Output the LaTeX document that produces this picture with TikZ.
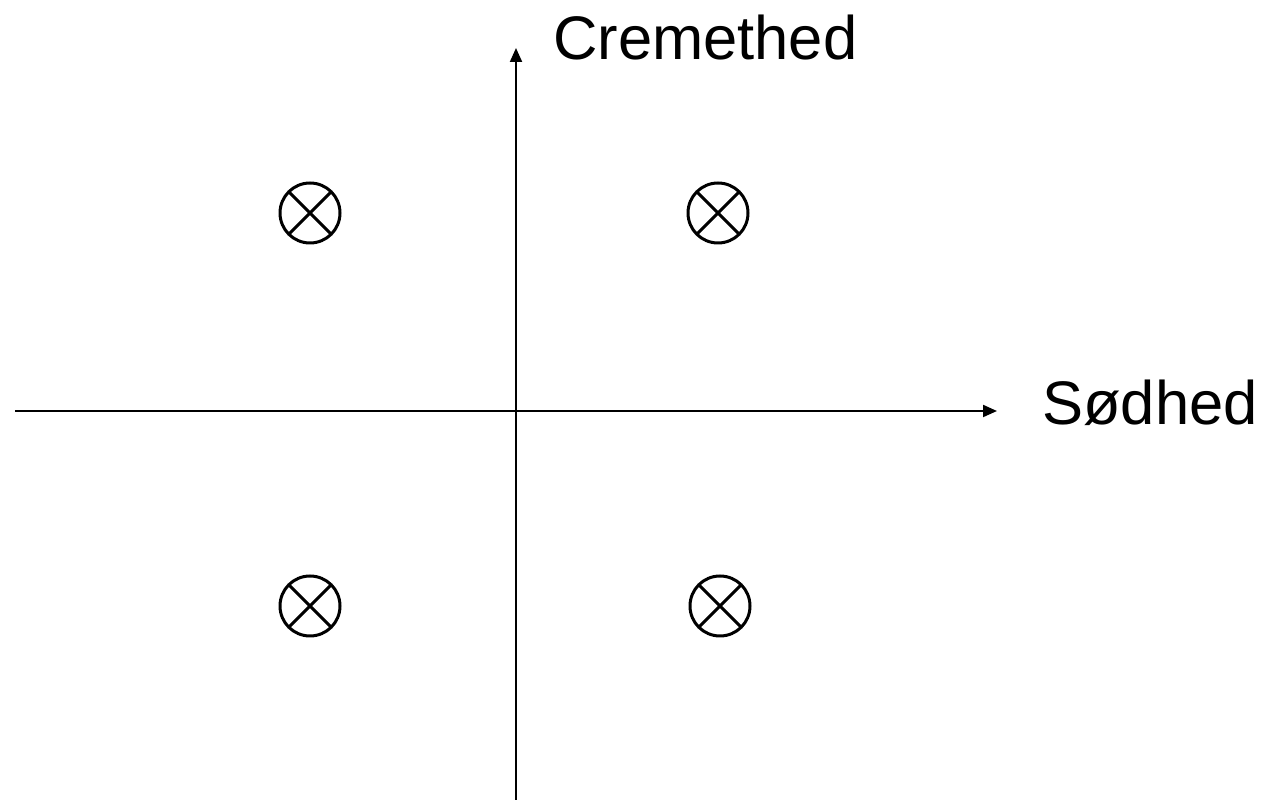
\documentclass[tikz,border=0pt]{standalone}
\usepackage{fontspec}
\setmainfont{Liberation Sans}
\usetikzlibrary{arrows.meta}
\begin{document}
\begin{tikzpicture}[x=1pt,y=1pt,
  axis/.style={line width=2pt,-{Triangle[length=14pt,width=12pt]}},
  probe/.style={circle,draw,line width=3pt,minimum size=60pt,inner sep=0pt,
    path picture={\draw[line width=3pt]
      (path picture bounding box.north west) -- (path picture bounding box.south east)
      (path picture bounding box.north east) -- (path picture bounding box.south west);}},
  lbl/.style={font=\fontsize{61.5}{72}\selectfont,inner sep=0pt,anchor=base west}]
\useasboundingbox (0,0) rectangle (1262,801);

\coordinate (xstart) at (15,390);
\coordinate (xend) at (997,390);
\coordinate (ystart) at (516,1);
\coordinate (yend) at (516,753);
\draw[axis] (xstart) -- (xend);
\draw[axis] (ystart) -- (yend);

\node[lbl] (sweet) at (1042,376) {Sødhed};
\node[lbl] (creamy) at (553,741) {Cremethed};

\node[probe] (ul) at (310,588) {};
\node[probe] (ur) at (718,588) {};
\node[probe] (ll) at (310,195) {};
\node[probe] (lr) at (720,195) {};
\end{tikzpicture}
\end{document}
